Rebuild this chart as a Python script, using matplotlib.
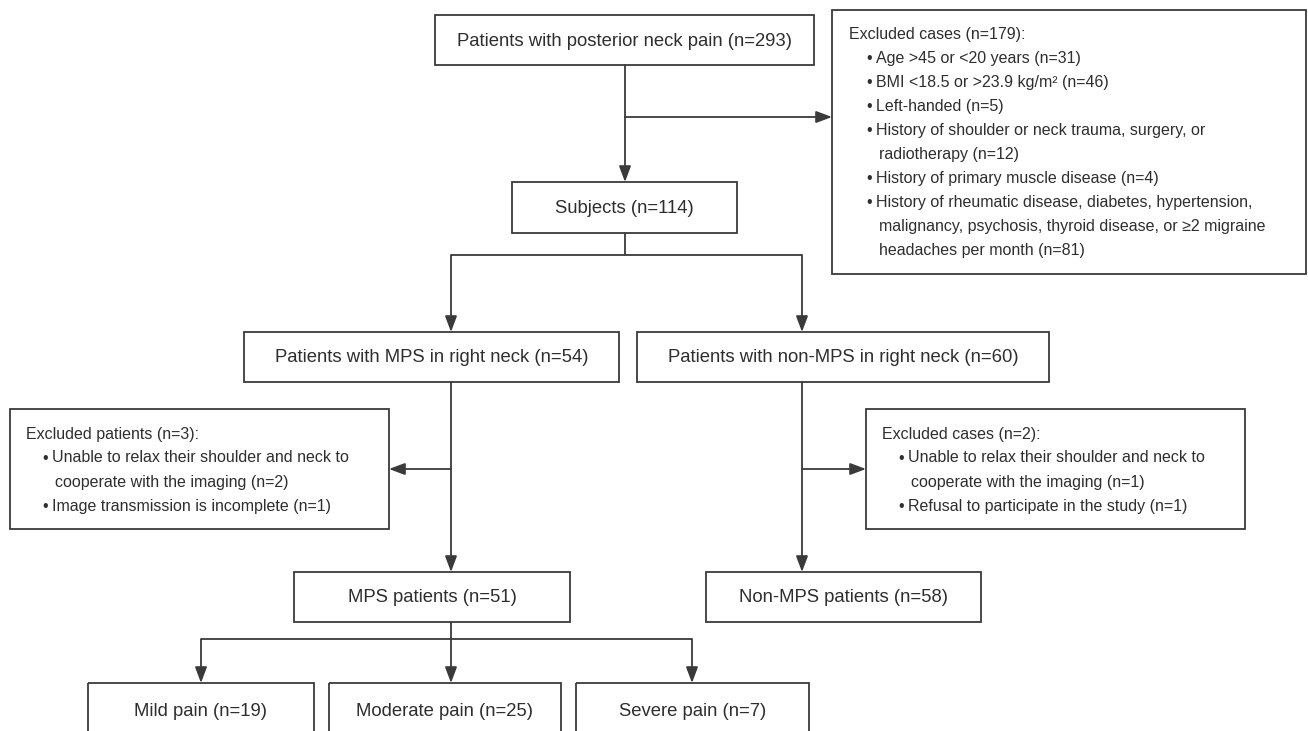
import matplotlib
matplotlib.use('Agg')
import matplotlib.pyplot as plt
from matplotlib.patches import Rectangle, FancyArrowPatch

plt.rcParams['font.family'] = ['Liberation Sans', 'DejaVu Sans']

INK = '#2e2e2e'
LINE = '#3a3a3a'

# box labels
top_label = 'Patients with posterior neck pain (n=293)'
subjects_label = 'Subjects (n=114)'
group_labels = ['Patients with MPS in right neck (n=54)',
                'Patients with non-MPS in right neck (n=60)']
final_labels = ['MPS patients (n=51)', 'Non-MPS patients (n=58)']
pain_labels = ['Mild pain (n=19)', 'Moderate pain (n=25)', 'Severe pain (n=7)']

excl1_title = 'Excluded cases (n=179):'
excl1_items = ['Age >45 or <20 years (n=31)',
               'BMI <18.5 or >23.9 kg/m\u00b2 (n=46)',
               'Left-handed (n=5)',
               'History of shoulder or neck trauma, surgery, or\nradiotherapy (n=12)',
               'History of primary muscle disease (n=4)',
               'History of rheumatic disease, diabetes, hypertension,\n'
               'malignancy, psychosis, thyroid disease, or \u22652 migraine\n'
               'headaches per month (n=81)']
excl2_title = 'Excluded patients (n=3):'
excl2_items = ['Unable to relax their shoulder and neck to\ncooperate with the imaging (n=2)',
               'Image transmission is incomplete (n=1)']
excl3_title = 'Excluded cases (n=2):'
excl3_items = ['Unable to relax their shoulder and neck to\ncooperate with the imaging (n=1)',
               'Refusal to participate in the study (n=1)']

fig = plt.figure(figsize=(13.08, 7.31), dpi=100)
ax = fig.add_axes([0, 0, 1, 1])
ax.set_xlim(0, 1308)
ax.set_ylim(731, 0)
ax.axis('off')

FS = 13.3   # box text
LFS = 11.5  # list text
LH = 24     # line height of list text


def box(x0, y0, x1, y1, label=None):
    ax.add_patch(Rectangle((x0, y0), x1 - x0, y1 - y0, fill=False,
                           edgecolor=LINE, linewidth=1.3))
    if label:
        ax.text((x0 + x1) / 2, (y0 + y1) / 2 + 1, label, ha='center', va='center',
                fontsize=FS, color=INK)


def line(xs, ys):
    ax.plot(xs, ys, color=LINE, linewidth=1.3, solid_capstyle='butt')


def arrow(x0, y0, x1, y1):
    ax.add_patch(FancyArrowPatch((x0, y0), (x1, y1),
                                 arrowstyle='-|>,head_length=0.8,head_width=0.3',
                                 mutation_scale=12, color=LINE, linewidth=1.3,
                                 shrinkA=0, shrinkB=0))


def listbox(x0, y0, x1, y1, title, items, tx, bx, ty):
    box(x0, y0, x1, y1)
    ax.text(tx, ty, title, ha='left', va='center', fontsize=LFS, color=INK)
    y = ty + LH
    for it in items:
        parts = it.split('\n')
        ax.text(bx, y, '\u2022', ha='left', va='center', fontsize=LFS, color=INK)
        for k, p in enumerate(parts):
            ax.text(bx + 10 + (3 if k else 0), y, p, ha='left', va='center',
                    fontsize=LFS, color=INK)
            y += LH


# boxes
box(435, 15, 814, 65, top_label)
box(512, 182, 737, 233, subjects_label)
box(244, 332, 619, 382, group_labels[0])
box(637, 332, 1049, 382, group_labels[1])
box(294, 572, 570, 622, final_labels[0])
box(706, 572, 981, 622, final_labels[1])
pain_x = [(88, 314), (329, 561), (576, 809)]
for (a, b), lab in zip(pain_x, pain_labels):
    box(a, 683, b, 737, lab)

listbox(832, 10, 1306, 274, excl1_title, excl1_items, 849, 866, 35)
listbox(10, 409, 389, 529, excl2_title, excl2_items, 26, 42, 434)
listbox(866, 409, 1245, 529, excl3_title, excl3_items, 882, 898, 434)

# connectors
arrow(625, 65, 625, 182)
arrow(625, 117, 832, 117)
line([625, 625], [233, 255])
line([451, 802], [255, 255])
arrow(451, 255, 451, 332)
arrow(802, 255, 802, 332)
arrow(451, 382, 451, 572)
arrow(451, 469, 389, 469)
arrow(802, 382, 802, 572)
arrow(802, 469, 866, 469)
line([451, 451], [622, 639])
line([201, 692], [639, 639])
for px in [201, 451, 692]:
    arrow(px, 639, px, 683)

fig.savefig('out.png', dpi=100)
